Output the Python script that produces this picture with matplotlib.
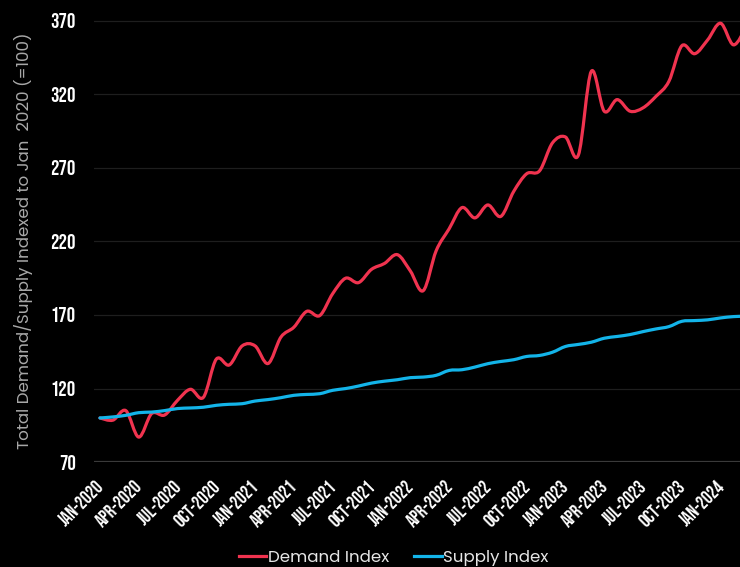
import matplotlib
matplotlib.use("Agg")
import matplotlib.pyplot as plt
from matplotlib import font_manager
from matplotlib.path import Path
from matplotlib.patches import PathPatch
from matplotlib.lines import Line2D
import numpy as np

# monthly index values, Jan 2020 .. Mar 2024 (Jan 2020 = 100)
demand = [100, 98.5, 105, 87, 103, 102, 112, 119.5, 114, 140, 136, 149,
          149, 137, 155, 161.7, 172.5, 169.6, 184.5, 195, 192, 201, 205, 211,
          200, 186.5, 213.6, 228.5, 243, 236, 244.8, 237, 254, 266, 268, 287,
          291, 278.7, 335.6, 308.5, 316.4, 308.5, 310.8, 318.6, 328.8, 353, 347.6, 357,
          368.3, 353.6, 366]
supply = [100, 100.7, 101.8, 103.6, 104, 105, 106.4, 106.8, 107.3, 108.6, 109.3, 109.7,
          111.5, 112.5, 113.8, 115.4, 116, 116.5, 118.8, 120, 121.7, 123.7, 125, 126,
          127.4, 127.8, 129, 132.3, 132.8, 134.6, 136.9, 138.4, 139.6, 141.8, 142.5, 144.7,
          148.6, 150, 151.5, 154.2, 155.4, 156.7, 158.7, 160.5, 162.1, 165.7, 166.2, 166.7,
          168, 168.9, 169.2]

tick_labels = ["JAN-2020", "APR-2020", "JUL-2020", "OCT-2020",
               "JAN-2021", "APR-2021", "JUL-2021", "OCT-2021",
               "JAN-2022", "APR-2022", "JUL-2022", "OCT-2022",
               "JAN-2023", "APR-2023", "JUL-2023", "OCT-2023",
               "JAN-2024"]
y_ticks = [70, 120, 170, 220, 270, 320, 370]

RED = "#f0334f"
BLUE = "#13b4e9"

installed = {f.name for f in font_manager.fontManager.ttflist}


def pick(*names):
    for n in names:
        if n in installed:
            return n
    return "DejaVu Sans"


num_font = pick("Bebas Neue", "Oswald", "Antonio", "Fjalla One", "Roboto Condensed")
txt_font = pick("Poppins", "Questrial", "Lato")


def smooth_path(xs, ys):
    # cubic bezier through every point (catmull-rom style tangents)
    pts = np.column_stack([xs, ys]).astype(float)
    verts = [pts[0]]
    codes = [Path.MOVETO]
    n = len(pts)
    for i in range(n - 1):
        p0 = pts[i - 1] if i > 0 else pts[i]
        p1 = pts[i]
        p2 = pts[i + 1]
        p3 = pts[i + 2] if i + 2 < n else pts[i + 1]
        c1 = p1 + (p2 - p0) / 6.0
        c2 = p2 - (p3 - p1) / 6.0
        verts += [c1, c2, p2]
        codes += [Path.CURVE4] * 3
    return Path(verts, codes)


months = np.arange(len(demand))

fig = plt.figure(figsize=(7.4, 5.67), dpi=100, facecolor="black")
ax = fig.add_axes([0.127, 0.185, 0.873, 0.781], facecolor="black")

for v in y_ticks[1:]:
    ax.axhline(v, color="#1e1e1e", lw=0.9, zorder=1)
ax.axhline(70, color="#3a3a3a", lw=1.6, zorder=1)

for vals, col in [(demand, RED), (supply, BLUE)]:
    ax.add_patch(PathPatch(smooth_path(months, vals), fill=False,
                           edgecolor=col, lw=2.3, capstyle="round",
                           joinstyle="round", zorder=3))

ax.set_xlim(-0.46, 49.5)
ax.set_ylim(70, 371)
for s in ax.spines.values():
    s.set_visible(False)

ax.set_yticks(y_ticks)
ax.set_yticklabels([str(v) for v in y_ticks], color="white", fontsize=15,
                   family=[num_font, "DejaVu Sans"], fontweight="bold")
ax.set_xticks(months[::3][:len(tick_labels)])
ax.set_xticklabels(tick_labels, rotation=45, ha="right", va="center",
                   rotation_mode="anchor", color="white", fontsize=13.5,
                   family=[num_font, "DejaVu Sans"], fontweight="bold")
ax.tick_params(axis="both", length=0)
ax.tick_params(axis="y", pad=13)
ax.tick_params(axis="x", pad=15)

ax.set_ylabel("Total Demand/Supply Indexed to Jan  2020 (=100)", color="#a8a8a8",
              fontsize=12, family=[txt_font, "DejaVu Sans"])
ax.yaxis.set_label_coords(-0.094, 0.5)

handles = [Line2D([], [], color=RED, lw=2.3), Line2D([], [], color=BLUE, lw=2.3)]
fig.legend(handles, ["Demand Index", "Supply Index"], loc="center",
           bbox_to_anchor=(0.532, 0.016), ncol=2, frameon=False,
           prop=dict(family=[txt_font, "DejaVu Sans"], size=12),
           labelcolor="#e6e6e6", handlelength=1.65, handletextpad=0.1,
           columnspacing=1.5)

fig.savefig("out.png", dpi=100, facecolor="black")
